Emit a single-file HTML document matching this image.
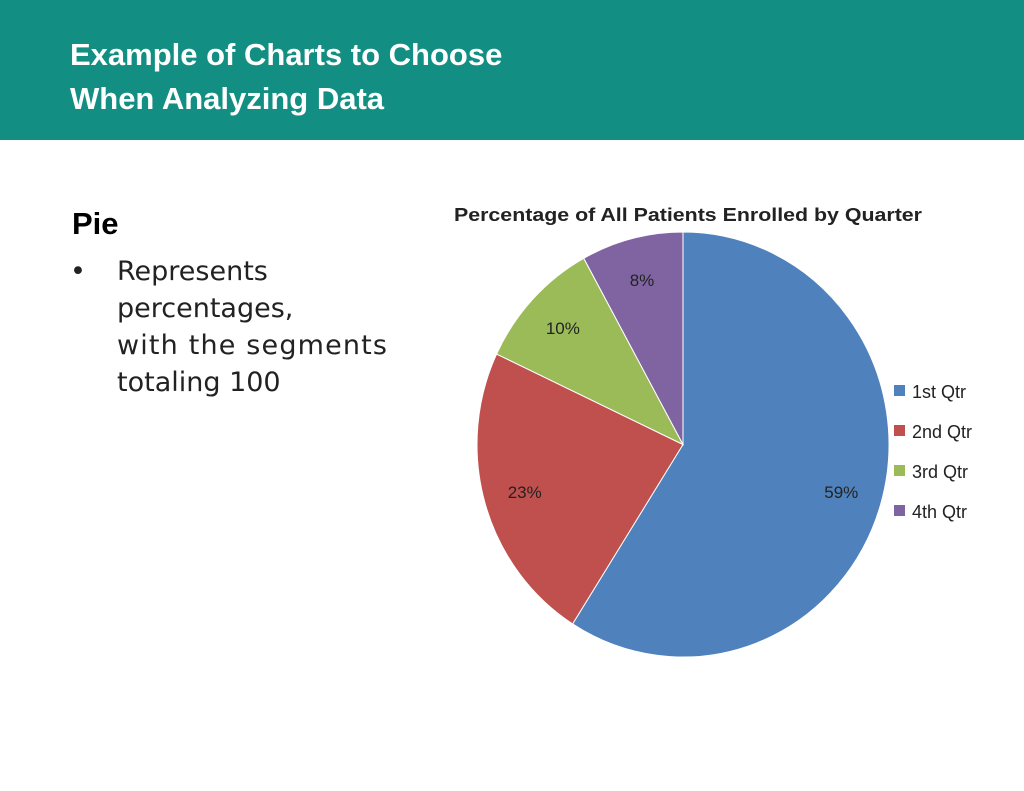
<!DOCTYPE html>
<html><head><meta charset="utf-8"><style>
html,body{margin:0;padding:0;background:#fff;}
svg{display:block;}
</style></head><body>
<svg width="1024" height="791" viewBox="0 0 1024 791">
<rect x="0" y="0" width="1024" height="140" fill="#128f82"/>
<text x="70" y="65" font-family="Liberation Sans, sans-serif" font-weight="bold" font-size="31" fill="#fff">Example of Charts to Choose</text>
<text x="70" y="109" font-family="Liberation Sans, sans-serif" font-weight="bold" font-size="31" fill="#fff">When Analyzing Data</text>
<text x="72" y="234" font-family="Liberation Sans, sans-serif" font-weight="bold" font-size="31" fill="#000">Pie</text>
<g font-family="DejaVu Sans, sans-serif" font-size="27" fill="#222">
<text x="70" y="280">•</text>
<text x="117" y="280">Represents</text>
<text x="117" y="317">percentages,</text>
<text x="117" y="354" textLength="270">with the segments</text>
<text x="117" y="391">totaling 100</text>
</g>
<text x="688" y="221" text-anchor="middle" font-family="Liberation Sans, sans-serif" font-weight="bold" font-size="18" fill="#222" textLength="468" lengthAdjust="spacingAndGlyphs">Percentage of All Patients Enrolled by Quarter</text>
<g id="pie"></g>
<g id="legend"></g>
</svg>
<script>
const categories = ["1st Qtr","2nd Qtr","3rd Qtr","4th Qtr"];
const values = [59, 23, 10, 8];
const labels = ["59%","23%","10%","8%"];
const colors = ["#4f81bd","#c0504d","#9bbb59","#8064a2"];
const NS="http://www.w3.org/2000/svg";
const cx=683, cy=444.5, rx=206, ry=212.5;
const pie=document.getElementById('pie');
const total=values.reduce((a,b)=>a+b,0);
function pt(a,fx,fy){return [cx+fx*Math.sin(a), cy-fy*Math.cos(a)];}
let acc=0;
values.forEach((v,i)=>{
  const a0=acc/total*2*Math.PI; acc+=v; const a1=acc/total*2*Math.PI;
  const p0=pt(a0,rx,ry), p1=pt(a1,rx,ry);
  const large=(a1-a0)>Math.PI?1:0;
  const path=document.createElementNS(NS,'path');
  path.setAttribute('d',`M${cx},${cy} L${p0[0]},${p0[1]} A${rx},${ry} 0 ${large} 1 ${p1[0]},${p1[1]} Z`);
  path.setAttribute('fill',colors[i]);
  path.setAttribute('stroke','#fff');
  path.setAttribute('stroke-width','1');
  
  
  pie.appendChild(path);
  const am=(a0+a1)/2;
  const lp=pt(am,rx*0.8,ry*0.8);
  const t=document.createElementNS(NS,'text');
  t.setAttribute('x',lp[0]); t.setAttribute('y',lp[1]+6);
  t.setAttribute('text-anchor','middle');
  t.setAttribute('font-family','Liberation Sans, sans-serif');
  t.setAttribute('font-size','17'); t.setAttribute('fill','#222');
  t.textContent=labels[i];
  
  
  pie.appendChild(t);
});
const legend=document.getElementById('legend');
categories.forEach((c,i)=>{
  const y=392+i*40;
  const r=document.createElementNS(NS,'rect');
  r.setAttribute('x',894); r.setAttribute('y',y-7); r.setAttribute('width',11); r.setAttribute('height',11);
  r.setAttribute('fill',colors[i]);
  
  
  legend.appendChild(r);
  const t=document.createElementNS(NS,'text');
  t.setAttribute('x',912); t.setAttribute('y',y+6);
  t.setAttribute('font-family','Liberation Sans, sans-serif');
  t.setAttribute('font-size','18'); t.setAttribute('fill','#222');
  t.textContent=c;
  
  
  legend.appendChild(t);
});
</script>
</body></html>
